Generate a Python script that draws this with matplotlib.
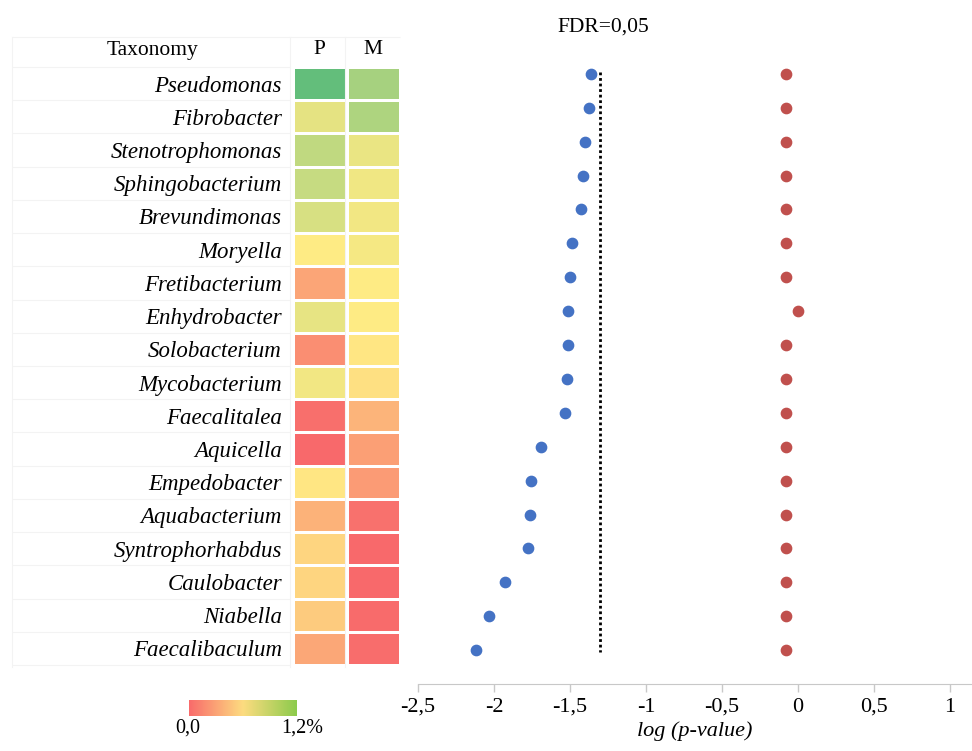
import numpy as np
import matplotlib
matplotlib.use("Agg")
import matplotlib.pyplot as plt
from matplotlib.colors import LinearSegmentedColormap, Normalize
from matplotlib.transforms import blended_transform_factory

# genera, top to bottom
taxa = ["Pseudomonas", "Fibrobacter", "Stenotrophomonas", "Sphingobacterium",
        "Brevundimonas", "Moryella", "Fretibacterium", "Enhydrobacter",
        "Solobacterium", "Mycobacterium", "Faecalitalea", "Aquicella",
        "Empedobacter", "Aquabacterium", "Syntrophorhabdus", "Caulobacter",
        "Niabella", "Faecalibaculum"]

# relative abundance (%) in P and M
abund_p = [1.20, 0.70, 0.84, 0.82, 0.75, 0.60, 0.28, 0.69, 0.17, 0.65,
           0.03, 0.00, 0.58, 0.34, 0.50, 0.50, 0.45, 0.29]
abund_m = [0.94, 0.91, 0.68, 0.66, 0.65, 0.64, 0.60, 0.60, 0.58, 0.55,
           0.35, 0.25, 0.23, 0.04, 0.00, 0.00, 0.01, 0.02]

# log10 p-values
logp_p = [-1.36, -1.375, -1.40, -1.415, -1.43, -1.49, -1.50, -1.51, -1.515,
          -1.52, -1.535, -1.69, -1.755, -1.76, -1.775, -1.93, -2.03, -2.12]
logp_m = [-0.08, -0.08, -0.08, -0.08, -0.08, -0.08, -0.08, 0.0, -0.08,
          -0.08, -0.08, -0.08, -0.08, -0.08, -0.08, -0.08, -0.08, -0.08]

fdr_cut = np.log10(0.05)
xticks = [-2.5, -2, -1.5, -1, -0.5, 0, 0.5, 1]

plt.rcParams['font.family'] = ['Liberation Serif', 'DejaVu Serif']

W, H = 972, 751
fig = plt.figure(figsize=(W / 100, H / 100), dpi=100)


def box(x0, y0, x1, y1):
    return [x0 / W, 1 - y1 / H, (x1 - x0) / W, (y1 - y0) / H]


cmap = LinearSegmentedColormap.from_list('ryg', ['#f8696b', '#ffeb84', '#63be7b'])
norm = Normalize(0, 1.2)
n = len(taxa)
rule = '#f3f3f3'

# heatmap table
ax = fig.add_axes(box(293, 67, 400, 665))
vals = np.column_stack([abund_p, abund_m])
ax.pcolormesh(vals, cmap=cmap, norm=norm, edgecolors='white', linewidth=2)
ax.set_xlim(0, 2)
ax.set_ylim(n, 0)
ax.set_yticks(np.arange(n) + 0.5)
ax.set_yticklabels(taxa, style='italic', fontsize=16.5)
ax.set_xticks([0.5, 1.5])
ax.set_xticklabels(['P', 'M'], fontsize=15.5)
ax.xaxis.tick_top()
ax.tick_params(length=0)
ax.tick_params(axis='y', pad=8)
ax.tick_params(axis='x', pad=6)
for s in ax.spines.values():
    s.set_visible(False)

# faint row rules in the label column
tr = blended_transform_factory(fig.transFigure, ax.transData)
ax.hlines(np.arange(n + 1), 12 / W, 290 / W, transform=tr, color=rule,
          lw=0.8, clip_on=False)
ax.hlines(-0.9, 12 / W, 400 / W, transform=tr, color=rule, lw=0.8,
          clip_on=False)
for xv in (12, 290, 345):
    fig.add_artist(plt.Line2D([xv / W, xv / W], [1 - 37 / H, 1 - 667 / H],
                              color=rule, lw=0.8))

fig.text(152 / W, 1 - 50 / H, 'Taxonomy', ha='center', va='center', fontsize=15.5)

# dot plot of p-values
ax2 = fig.add_axes(box(418, 40, 972, 684))
rows = np.arange(n)
ax2.scatter(logp_p, rows, s=55, color='#4472c4', zorder=3)
ax2.scatter(logp_m, rows, s=55, color='#c0504d', zorder=3)
ax2.vlines(fdr_cut, -0.05, n - 1 + 0.05, color='black', lw=2,
           linestyles=(0, (1, 1)))
ax2.set_xlim(-2.5, -2.5 + (972 - 418) / 152)
ax2.set_ylim(n, -1)
ax2.set_yticks([])
ax2.set_xticks(xticks)
ax2.set_xticklabels([f'{v:g}'.replace('.', ',') for v in xticks], fontsize=16)
ax2.tick_params(axis='x', length=6, color='#c8c8c8', width=1, pad=4)
for k in ('top', 'right', 'left'):
    ax2.spines[k].set_visible(False)
ax2.spines['bottom'].set_color('#c8c8c8')
ax2.set_xlabel('log (p-value)', style='italic', fontsize=16, labelpad=3)
ax2.patch.set_alpha(0)

fig.text(603 / W, 1 - 27 / H, 'FDR=0,05', ha='center', va='center', fontsize=15.5)

# colour key
cb_cmap = LinearSegmentedColormap.from_list('key', ['#f96b6b', '#fddc80', '#8ccb4c'])
axc = fig.add_axes(box(189, 700, 296, 716))
axc.imshow(np.linspace(0, 1, 256)[None, :], cmap=cb_cmap, aspect='auto')
axc.axis('off')
fig.text(188 / W, 1 - 728 / H, '0,0', ha='center', va='center', fontsize=14.5)
fig.text(302 / W, 1 - 728 / H, '1,2%', ha='center', va='center', fontsize=14.5)

fig.savefig('out.png', dpi=100)
